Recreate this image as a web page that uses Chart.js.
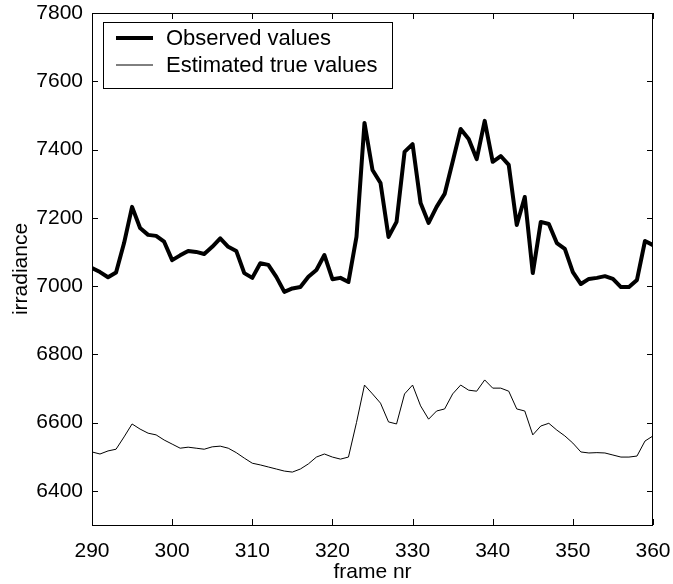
<!DOCTYPE html>
<html>
<head>
<meta charset="utf-8">
<title>irradiance</title>
<script src="https://cdn.jsdelivr.net/npm/chart.js@4.4.1/dist/chart.umd.min.js"></script>
<style>
	body { margin: 0; background: #fff; }
	#mycanvas { display: block; }
</style>
</head>
<body>
<canvas id="mycanvas" width="673" height="584"></canvas>
<script>
var frames = [290, 291, 292, 293, 294, 295, 296, 297, 298, 299,
	300, 301, 302, 303, 304, 305, 306, 307, 308, 309,
	310, 311, 312, 313, 314, 315, 316, 317, 318, 319,
	320, 321, 322, 323, 324, 325, 326, 327, 328, 329,
	330, 331, 332, 333, 334, 335, 336, 337, 338, 339,
	340, 341, 342, 343, 344, 345, 346, 347, 348, 349,
	350, 351, 352, 353, 354, 355, 356, 357, 358, 359, 360];

var observed = [7053, 7041, 7026, 7040, 7126, 7232, 7170, 7150, 7147, 7130,
	7076, 7090, 7103, 7100, 7094, 7115, 7140, 7115, 7103, 7038,
	7024, 7067, 7062, 7027, 6983, 6993, 6997, 7027, 7047, 7091,
	7020, 7024, 7012, 7144, 7478, 7340, 7302, 7144, 7188, 7393,
	7416, 7243, 7185, 7232, 7270, 7364, 7460, 7431, 7372, 7484,
	7364, 7381, 7355, 7179, 7261, 7038, 7188, 7182, 7126, 7109,
	7041, 7006, 7021, 7024, 7029, 7021, 6997, 6997, 7018, 7132, 7120];

var estimated = [6514, 6508, 6517, 6522, 6558, 6596, 6581, 6569, 6564, 6549,
	6537, 6525, 6528, 6525, 6522, 6529, 6531, 6525, 6512, 6496,
	6481, 6476, 6470, 6464, 6458, 6455, 6464, 6479, 6499, 6508,
	6499, 6493, 6499, 6600, 6710, 6684, 6657, 6602, 6596, 6684,
	6710, 6649, 6610, 6634, 6640, 6684, 6710, 6695, 6692, 6725,
	6701, 6701, 6692, 6640, 6634, 6564, 6590, 6598, 6578, 6561,
	6540, 6514, 6511, 6512, 6511, 6505, 6499, 6499, 6502, 6546, 6561];

var xTicks = [290, 300, 310, 320, 330, 340, 350, 360];
var yTicks = [6400, 6600, 6800, 7000, 7200, 7400, 7600, 7800];

var FONT = 'Liberation Sans, Arial, Helvetica, sans-serif';

function toPoints(ys) {
	var pts = [];
	for (var i in frames) {
		pts.push({x: frames[i], y: ys[i]});
	}
	return pts;
}

// axes box with inward tick marks on all four sides, plus the boxed legend
var boxPlugin = {
	id: 'boxAndLegend',
	afterDraw: function(chart) {
		var ctx = chart.ctx;
		var a = chart.chartArea;
		var xs = chart.scales.x, ys = chart.scales.y;
		var tl = 6;
		ctx.save();
		ctx.strokeStyle = '#000';
		ctx.lineWidth = 1;
		ctx.strokeRect(a.left + 0.5, a.top + 0.5, a.right - a.left - 1, a.bottom - a.top);
		ctx.beginPath();
		xTicks.forEach(function(v) {
			var px = Math.round(xs.getPixelForValue(v)) + 0.5;
			ctx.moveTo(px, a.bottom); ctx.lineTo(px, a.bottom - tl);
			ctx.moveTo(px, a.top); ctx.lineTo(px, a.top + tl);
		});
		yTicks.forEach(function(v) {
			var py = Math.round(ys.getPixelForValue(v)) + 0.5;
			ctx.moveTo(a.left, py); ctx.lineTo(a.left + tl, py);
			ctx.moveTo(a.right, py); ctx.lineTo(a.right - tl, py);
		});
		ctx.stroke();

		// legend
		var lx = 103, ly = 22, lw = 289, lh = 66;
		ctx.fillStyle = '#fff';
		ctx.fillRect(lx, ly, lw, lh);
		ctx.strokeRect(lx + 0.5, ly + 0.5, lw, lh);
		ctx.font = '22px ' + FONT;
		ctx.textBaseline = 'middle';
		ctx.textAlign = 'left';
		ctx.fillStyle = '#000';
		var rows = [38, 65];
		chart.data.datasets.forEach(function(ds, i) {
			ctx.beginPath();
			ctx.lineWidth = ds.borderWidth;
			ctx.moveTo(116, rows[i]);
			ctx.lineTo(153, rows[i]);
			ctx.stroke();
			ctx.fillText(ds.label, 166, rows[i] + 1);
		});
		ctx.restore();
	}
};

var chartdata = {
	datasets: [
		{
			label: 'Observed values',
			data: toPoints(observed),
			borderColor: '#000',
			borderWidth: 4,
			borderJoinStyle: 'round',
			pointRadius: 0,
			tension: 0
		},
		{
			label: 'Estimated true values',
			data: toPoints(estimated),
			borderColor: '#000',
			borderWidth: 1,
			pointRadius: 0,
			tension: 0
		}
	]
};

var ctx = document.getElementById('mycanvas');

var lineGraph = new Chart(ctx, {
	type: 'line',
	data: chartdata,
	options: {
		responsive: false,
		animation: false,
		devicePixelRatio: 1,
		layout: { padding: { left: 0, top: 13, right: 20, bottom: 0 } },
		plugins: {
			legend: { display: false },
			tooltip: { enabled: false }
		},
		scales: {
			x: {
				type: 'linear',
				min: 290,
				max: 360,
				afterBuildTicks: function(scale) {
					scale.ticks = xTicks.map(function(v) { return {value: v}; });
				},
				afterFit: function(scale) {
					scale.height = 59;
					scale.paddingLeft = 0;
					scale.paddingRight = 0;
				},
				grid: { display: false, drawTicks: false },
				border: { display: false },
				ticks: {
					color: '#000',
					padding: 14,
					maxRotation: 0,
					autoSkip: false,
					font: { family: FONT, size: 21 },
					callback: function(v) { return String(v); }
				},
				title: {
					display: true,
					text: 'frame nr',
					color: '#000',
					font: { family: FONT, size: 21, lineHeight: 1 },
					padding: { top: 0, bottom: 1 }
				}
			},
			y: {
				type: 'linear',
				min: 6300,
				max: 7800,
				afterBuildTicks: function(scale) {
					scale.ticks = yTicks.map(function(v) { return {value: v}; });
				},
				afterFit: function(scale) {
					scale.width = 92;
					scale.paddingTop = 0;
					scale.paddingBottom = 0;
				},
				grid: { display: false, drawTicks: false },
				border: { display: false },
				ticks: {
					color: '#000',
					padding: 9,
					autoSkip: false,
					font: { family: FONT, size: 21 },
					callback: function(v) { return String(v); }
				},
				title: {
					display: true,
					text: 'irradiance',
					color: '#000',
					font: { family: FONT, size: 21, lineHeight: 1 },
					padding: { top: 11, bottom: 0 }
				}
			}
		}
	},
	plugins: [boxPlugin]
});
</script>
</body>
</html>
